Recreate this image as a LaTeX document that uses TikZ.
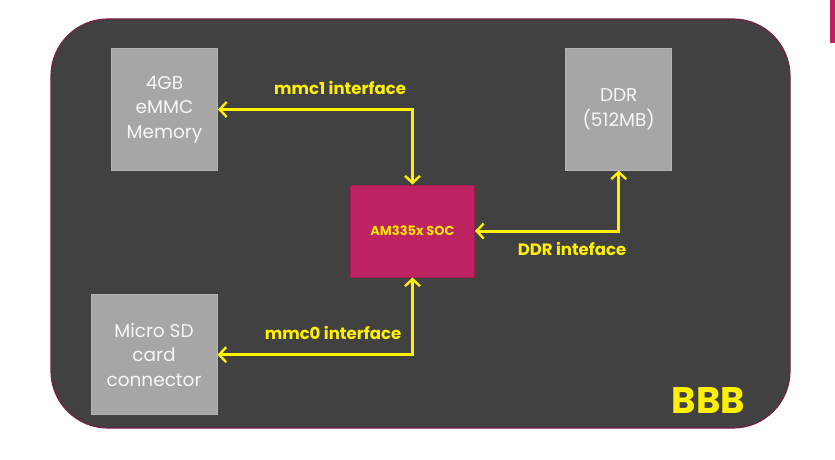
\documentclass[tikz,border=0pt]{standalone}
\usepackage{fontspec}
\setmainfont{Poppins}
\usepackage{tikz}
\usetikzlibrary{arrows.meta}
\usepackage{xcolor}
\definecolor{board}{HTML}{414141}
\definecolor{rim}{HTML}{7A1F48}
\definecolor{chip}{HTML}{BD2361}
\definecolor{chiprim}{HTML}{9E1A50}
\definecolor{part}{HTML}{A6A6A6}
\definecolor{sig}{HTML}{FFF000}

\begin{document}
\begin{tikzpicture}[x=1pt,y=-1pt,
  blk/.style={draw=part!85!white,line width=1pt,fill=part,text=white!93!gray,align=center,
    font=\fontsize{18.5}{24.5}\selectfont,inner sep=0pt},
  bus/.style={sig,line width=3pt,{Straight Barb[length=7pt,width=15pt,line width=2.4pt]}-{Straight Barb[length=7pt,width=15pt,line width=2.4pt]}},
  tag/.style={text=sig,font=\fontsize{16.5}{18}\selectfont\bfseries}]
 \useasboundingbox (0,0) rectangle (835,460);
 \draw[rounded corners=57pt,fill=board,draw=rim,line width=1.2pt] (51,19) rectangle (790,428);
 \fill[chip] (830,0) rectangle (835,43);

 \node[blk,minimum width=106,minimum height=121] (emmc) at (164.5,109.5) {4GB\\eMMC\\Memory};
 \node[blk,minimum width=106,minimum height=121] (ddr) at (618.7,109.5) {DDR\\(512MB)};
 \node[blk,minimum width=126,minimum height=120] (sd) at (154,354.7) {Micro SD\\card\\connector};
 \node[draw=chiprim,line width=1pt,fill=chip,minimum width=124,minimum height=92,text=sig!90!orange,
   font=\fontsize{13}{15}\selectfont\bfseries] (soc) at (412.5,231) {AM335x SOC};

 \draw[bus] (soc.north) |- (emmc.east);
 \draw[bus] (soc.east) -| (ddr.south);
 \draw[bus] (soc.south) |- (sd.east);

 \node[tag] (mmc1) at (340,88) {mmc1 interface};
 \node[tag] (ddrif) at (572,249) {DDR inteface};
 \node[tag] (mmc0) at (333,333) {mmc0 interface};
 \node[text=sig,font=\fontsize{37}{40}\selectfont\bfseries] (bbb) at (708.5,401) {BBB};
\end{tikzpicture}
\end{document}
